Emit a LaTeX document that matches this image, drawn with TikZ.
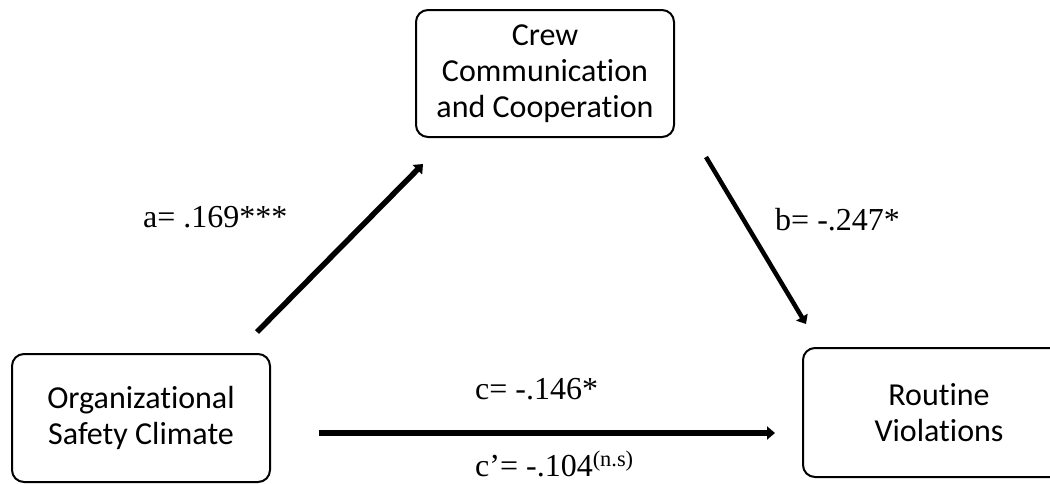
\documentclass[tikz,border=0pt]{standalone}
\usepackage{fontspec}
\setmainfont{Liberation Serif}
\newfontfamily\boxfont[Ligatures={NoCommon}]{Carlito}
\usetikzlibrary{arrows.meta}
\begin{document}
\begin{tikzpicture}[x=1pt,y=-1pt,
 box/.style={draw, line width=2pt, rounded corners=12pt, font=\boxfont\fontsize{32}{36}\selectfont, align=center, inner sep=0pt},
 patharrow/.style={line width=5.5pt, -{Triangle[length=8pt,width=13pt]}},
 lab/.style={font=\fontsize{32}{36}\selectfont, inner sep=0pt, anchor=base west}]
\clip (0,0) rectangle (1050,483);
\node[box, minimum width=258pt, minimum height=127pt] (crew) at (545,73.5) {Crew\\Communication\\and Cooperation};
\node[box, minimum width=258pt, minimum height=128pt] (org) at (141,418) {Organizational\\Safety Climate};
\node[box, minimum width=272pt, minimum height=129pt] (rv) at (939,412.5) {Routine\\Violations};
\coordinate (a1) at (257,332);
\coordinate (a2) at (423,164);
\coordinate (b1) at (706,157);
\coordinate (b2) at (806,324);
\coordinate (c1) at (319,433);
\coordinate (c2) at (775,433);
\draw[patharrow] (a1) -- (a2);
\draw[patharrow, line width=4.5pt] (b1) -- (b2);
\draw[patharrow] (c1) -- (c2);
\node[lab] (la) at (143,227) {a= .169***};
\node[lab] (lb) at (775,230) {b= -.247*};
\node[lab] (lc) at (475,399) {c= -.146*};
\node[lab] (lc2) at (475,476) {c’= -.104\textsuperscript{(n.s)}};
\end{tikzpicture}
\end{document}
